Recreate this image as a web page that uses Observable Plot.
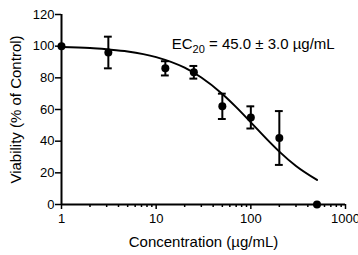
<!DOCTYPE html>
<html><head><meta charset="utf-8">
<script src="https://cdn.jsdelivr.net/npm/d3@7"></script>
<script src="https://cdn.jsdelivr.net/npm/@observablehq/plot@0.6"></script>
<style>body{margin:0;background:#fff}svg{overflow:hidden}</style>
</head><body><div id="chart"></div>
<script>
const concentration = [1, 3.125, 12.5, 25, 50, 100, 200, 500];
const viability = [100, 96, 86, 83.5, 62, 55, 42, 0];
const sem = [0, 10, 4.5, 4, 8, 7, 17, 0];
const fitX = [1, 2, 3, 5, 10, 20, 30, 50, 70, 100, 150, 200, 300, 500];
const fitY = [99.4, 98.8, 98, 96.7, 93.1, 86.4, 80.2, 69.8, 61.5, 51.9, 40.8, 33.4, 24.3, 15.5];
const xTicks = [1, 10, 100, 1000];
const yTicks = [0, 20, 40, 60, 80, 100, 120];
const annotation = [{x: 14.6, y: 101, label: "EC20 = 45.0 ± 3.0 µg/mL"}];

const pts = concentration.map((c, i) => ({x: c, y: viability[i], e: sem[i]}));
const bars = pts.filter(d => d.e > 0);
const fit = fitX.map((x, i) => ({x, y: fitY[i]}));
const minor = [];
for (const d of [1, 10, 100]) for (let k = 2; k <= 9; k++) minor.push(d * k);

const font = "Liberation Sans, Arial, sans-serif";
const plot = Plot.plot({
  width: 358, height: 255,
  marginLeft: 61, marginRight: 13, marginTop: 14, marginBottom: 51,
  style: {fontFamily: font, fontSize: "13px", color: "#000", background: "#fff"},
  x: {type: "log", domain: [1, 1000]},
  y: {domain: [0, 120]},
  marks: [
    Plot.axisX(minor, {tickSize: 3, text: null, strokeWidth: 1.5, label: null}),
    Plot.axisX(xTicks, {tickSize: 5, tickFormat: d => String(d), tickPadding: 4, strokeWidth: 1.5, fontSize: 13, label: null}),
    Plot.axisX({ticks: [], label: "Concentration (µg/mL)", labelAnchor: "center", labelArrow: "none", labelOffset: 42, fontSize: 15}),
    Plot.axisY(yTicks, {tickSize: 6, tickPadding: 1, strokeWidth: 1.5, fontSize: 13, label: null}),
    Plot.axisY({ticks: [], label: "Viability (% of Control)", labelAnchor: "center", labelArrow: "none", labelOffset: 51, fontSize: 15}),
    Plot.ruleX([1], {y1: 0, y2: 120, strokeWidth: 2}),
    Plot.ruleY([0], {x1: 1, x2: 1000, strokeWidth: 2}),
    Plot.line(fit, {x: "x", y: "y", curve: "monotone-x", strokeWidth: 2}),
    Plot.ruleX(bars, {x: "x", y1: d => d.y - d.e, y2: d => d.y + d.e, strokeWidth: 2}),
    Plot.ruleY(bars, {y: d => d.y - d.e, x1: d => d.x / 1.1, x2: d => d.x * 1.1, strokeWidth: 2}),
    Plot.ruleY(bars, {y: d => d.y + d.e, x1: d => d.x / 1.1, x2: d => d.x * 1.1, strokeWidth: 2}),
    Plot.dot(pts, {x: "x", y: "y", r: 4, fill: "#000", stroke: null}),
    Plot.text(annotation, {x: "x", y: "y", text: "label", textAnchor: "start", fontSize: 15, fill: "#000", className: "ec-note"})
  ]
});
// subscript for EC20
plot.querySelectorAll(".ec-note text").forEach(t => {
  const s = t.textContent;
  const m = s.match(/^EC(\d+)(.*)$/);
  if (!m) return;
  t.textContent = "";
  const ns = "http://www.w3.org/2000/svg";
  const a = document.createElementNS(ns, "tspan"); a.textContent = "EC";
  const b = document.createElementNS(ns, "tspan"); b.textContent = m[1];
  b.setAttribute("font-size", "11"); b.setAttribute("dy", "4");
  const c = document.createElementNS(ns, "tspan"); c.textContent = m[2]; c.setAttribute("dy", "-4");
  t.append(a, b, c);
});
document.getElementById("chart").append(plot);
</script></body></html>
